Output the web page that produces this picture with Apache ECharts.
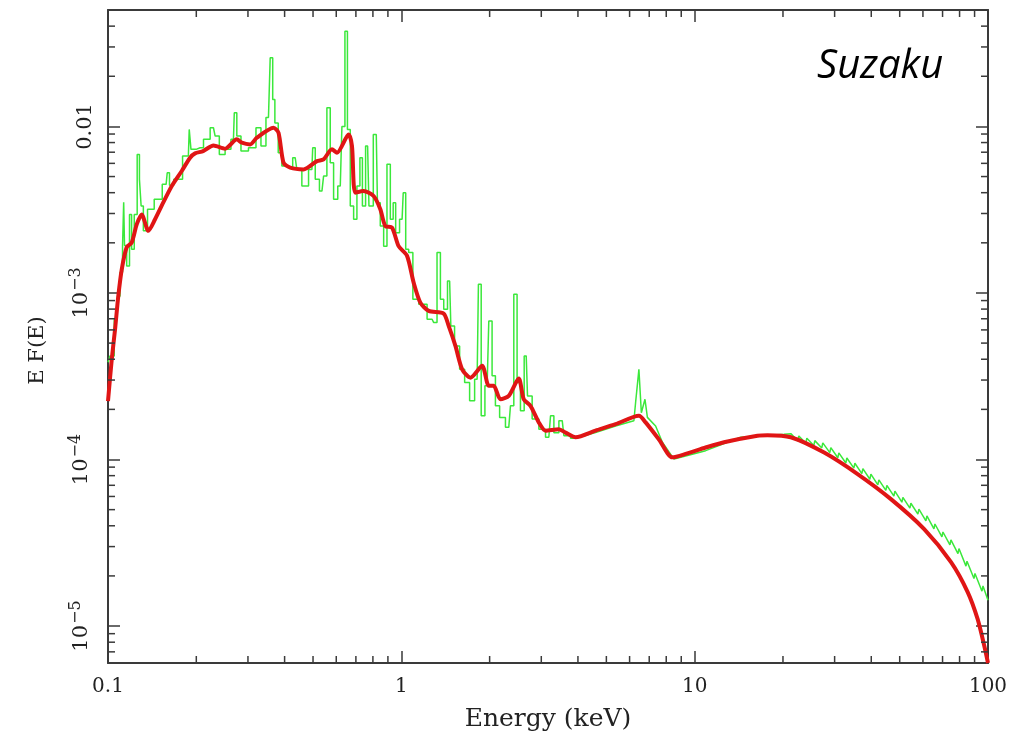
<!DOCTYPE html>
<html>
<head>
<meta charset="utf-8">
<script src="https://cdn.jsdelivr.net/npm/echarts@6/dist/echarts.min.js"></script>
<style>
html,body{margin:0;padding:0;background:#fff;}
#chart{width:1030px;height:741px;}
</style>
</head>
<body>
<div id="chart"></div>
<script>
// ---- data (energy in keV, E F(E)) ----
const modelE = [0.1,0.103,0.1057,0.1084,0.1114,0.1158,0.1205,0.1253,0.1303,0.1373,0.1447,0.1544,0.165,0.1784,0.1905,0.1981,0.211,0.2288,0.2508,0.2749,0.286,0.3052,0.3217,0.3666,0.3813,0.3966,0.418,0.4641,0.5157,0.543,0.58,0.6034,0.661,0.6788,0.6966,0.7434,0.8045,0.8479,0.8819,0.9296,0.979,1.046,1.102,1.161,1.24,1.394,1.45,1.529,1.612,1.72,1.886,1.986,2.065,2.177,2.324,2.513,2.614,2.756,2.942,3.1,3.443,3.629,3.926,4.593,5.375,6.455,6.804,7.554,8.394,9.318,10.9,12.59,16.37,17.7,21.27,27.63,35.93,46.67,60.6,74.8,85.25,92.2,97.1,100];
const modelF = [2.24e-4,4.0e-4,6.05e-4,9.55e-4,1.387e-3,1.88e-3,2.01e-3,2.58e-3,2.96e-3,2.36e-3,2.77e-3,3.5e-3,4.39e-3,5.4e-3,6.49e-3,6.89e-3,7.11e-3,7.69e-3,7.35e-3,8.36e-3,7.98e-3,7.8e-3,8.55e-3,9.82e-3,9.16e-3,6.05e-3,5.65e-3,5.52e-3,6.19e-3,6.34e-3,7.28e-3,6.95e-3,8.95e-3,7.62e-3,4.0e-3,4.09e-3,3.82e-3,3.18e-3,2.52e-3,2.47e-3,1.91e-3,1.67e-3,1.15e-3,8.75e-4,7.8e-4,7.52e-4,6.34e-4,4.81e-4,3.48e-4,3.1e-4,3.65e-4,2.77e-4,2.77e-4,2.3e-4,2.41e-4,3.06e-4,2.3e-4,2.1e-4,1.67e-4,1.49e-4,1.52e-4,1.45e-4,1.36e-4,1.49e-4,1.63e-4,1.83e-4,1.67e-4,1.32e-4,1.03e-4,1.08e-4,1.18e-4,1.27e-4,1.39e-4,1.4e-4,1.36e-4,1.1e-4,8.17e-5,5.78e-5,3.82e-5,2.42e-5,1.6e-5,1.1e-5,7.62e-6,6.0e-6];

const spectrumE = [0.1,0.103,0.1071,0.1084,0.1114,0.1128,0.1134,0.1143,0.1173,0.1195,0.1212,0.1246,0.1269,0.1291,0.1303,0.1337,0.1391,0.1485,0.1578,0.1606,0.1635,0.1716,0.1879,0.1905,0.1931,0.2061,0.2173,0.2288,0.235,0.2443,0.2574,0.2677,0.2713,0.2785,0.2896,0.3133,0.3258,0.3388,0.3524,0.3621,0.3666,0.3746,0.3864,0.3966,0.418,0.4346,0.4461,0.4702,0.4956,0.5019,0.5157,0.5362,0.5503,0.5647,0.58,0.5953,0.6192,0.6355,0.6491,0.661,0.6788,0.6966,0.7148,0.7301,0.7434,0.7674,0.7838,0.8215,0.8364,0.8591,0.8819,0.905,0.9296,0.9465,0.9667,1.006,1.024,1.046,1.073,1.117,1.177,1.273,1.306,1.341,1.377,1.413,1.461,1.489,1.549,1.612,1.676,1.743,1.813,1.85,1.894,1.961,2.013,2.065,2.121,2.206,2.324,2.387,2.449,2.513,2.582,2.665,2.72,2.867,3.022,3.183,3.269,3.355,3.536,3.629,3.926,4.593,5.375,6.205,6.29,6.455,6.58,6.77,6.9,7.36,7.76,8.5,9.318,10.9,14.35,20.17,
  21.27,22.47,22.65,23.93,24.12,25.48,25.68,27.12,27.34,28.89,29.12,30.76,31.01,32.76,33.02,34.89,35.17,37.15,37.45,39.56,39.88,42.12,42.46,44.85,45.21,47.77,48.15,50.86,51.27,54.16,54.59,57.68,58.14,61.42,61.91,65.41,65.93,69.65,70.21,74.16,74.75,78.99,79.62,84.12,84.79,89.57,90.29,95.38,96.14,100];
const spectrumF = [3.84e-4,4.19e-4,6.95e-4,9.55e-4,1.33e-3,1.91e-3,3.5e-3,1.93e-3,1.45e-3,2.96e-3,1.83e-3,2.96e-3,6.79e-3,4.81e-3,3.33e-3,2.36e-3,3.18e-3,3.65e-3,4.49e-3,5.27e-3,4.43e-3,4.81e-3,6.64e-3,9.59e-3,7.28e-3,7.45e-3,8.36e-3,9.82e-3,8.75e-3,6.79e-3,7.28e-3,8.36e-3,1.208e-2,8.75e-3,7.11e-3,7.45e-3,9.82e-3,7.62e-3,1.132e-2,2.58e-2,1.45e-2,1.05e-2,6.95e-3,5.78e-3,5.65e-3,6.49e-3,5.52e-3,4.39e-3,5.52e-3,7.45e-3,4.81e-3,4.09e-3,5.03e-3,1.294e-2,6.05e-3,3.65e-3,4.39e-3,1.0e-2,3.73e-2,9.59e-3,3.33e-3,2.77e-3,4.39e-3,6.49e-3,3.33e-3,7.62e-3,3.33e-3,8.95e-3,3.48e-3,2.52e-3,1.91e-3,5.92e-3,2.77e-3,3.48e-3,2.3e-3,2.77e-3,4.0e-3,1.83e-3,1.75e-3,9.16e-4,8.55e-4,6.95e-4,6.64e-4,1.75e-3,9.16e-4,7.98e-4,1.18e-3,6.34e-4,4.81e-4,3.48e-4,2.9e-4,2.25e-4,3.03e-4,1.127e-3,1.83e-4,2.77e-4,6.79e-4,3.18e-4,2.1e-4,1.79e-4,1.56e-4,2.1e-4,9.82e-4,2.9e-4,1.96e-4,4.19e-4,2.41e-4,1.75e-4,1.52e-4,1.36e-4,1.83e-4,1.45e-4,1.71e-4,1.39e-4,1.34e-4,1.45e-4,1.59e-4,1.71e-4,2.2e-4,3.48e-4,1.91e-4,2.3e-4,1.79e-4,1.59e-4,1.27e-4,1.005e-4,1.05e-4,1.13e-4,1.36e-4,1.42e-4,
  1.43e-4,1.294e-4,1.386e-4,1.253e-4,1.342e-4,1.212e-4,1.298e-4,1.174e-4,1.258e-4,1.1e-4,1.179e-4,1.024e-4,1.097e-4,9.53e-5,1.021e-4,8.87e-5,9.5e-5,8.23e-5,8.82e-5,7.61e-5,8.16e-5,7.04e-5,7.55e-5,6.52e-5,6.99e-5,6.02e-5,6.45e-5,5.54e-5,5.93e-5,5.1e-5,5.46e-5,4.7e-5,5.03e-5,4.28e-5,4.59e-5,3.83e-5,4.1e-5,3.43e-5,3.67e-5,3.07e-5,3.29e-5,2.72e-5,2.92e-5,2.29e-5,2.45e-5,1.93e-5,2.07e-5,1.62e-5,1.74e-5,1.43e-5];

// energy below which the spectrum is drawn as a binned histogram
const histogramEdge = 3.926;

// axis ranges and minor tick positions
const xRange = [0.1, 100];
const yRange = [6e-6, 0.05];
const xMinorTicks = [0.2,0.3,0.4,0.5,0.6,0.7,0.8,0.9,2,3,4,5,6,7,8,9,20,30,40,50,60,70,80,90];
const yMinorTicks = [7e-6,8e-6,9e-6,2e-5,3e-5,4e-5,5e-5,6e-5,7e-5,8e-5,9e-5,2e-4,3e-4,4e-4,5e-4,6e-4,7e-4,8e-4,9e-4,2e-3,3e-3,4e-3,5e-3,6e-3,7e-3,8e-3,9e-3,0.02,0.03,0.04];

const AX = '#3a3a3a';
const FONT = 'DejaVu Serif';
const GREEN = '#3be83b';

function yLabel(v){
  const e = Math.log10(v);
  const r = Math.round(e);
  if (Math.abs(e - r) > 1e-6) return '';
  if (r === -2) return '{b|0.01}';
  return '{b|10}{s|\u2212' + (-r) + '}';
}
function xLabel(v){
  const e = Math.log10(v);
  const r = Math.round(e);
  if (Math.abs(e - r) > 1e-6) return '';
  return String(+v.toPrecision(3));
}

const specPairs = spectrumE.map((e,i)=>[e, spectrumF[i]]);
const specLow = specPairs.filter(p => p[0] <= histogramEdge);
const specHigh = specPairs.filter(p => p[0] >= histogramEdge);

const chart = echarts.init(document.getElementById('chart'), null, {renderer:'canvas'});
const tickStyle = {color: AX, width: 1.5};
const commonX = {type:'log', logBase:10, min:xRange[0], max:xRange[1], splitLine:{show:false},
  axisLine:{show:true, lineStyle:{color:AX, width:2}}, axisTick:{show:true, inside:true, length:12, lineStyle:tickStyle}};
const commonY = {type:'log', logBase:10, min:yRange[0], max:yRange[1], splitLine:{show:false},
  axisLine:{show:true, lineStyle:{color:AX, width:2}}, axisTick:{show:true, inside:true, length:12, lineStyle:tickStyle}};

function minorX(params, api){
  const v = api.value(0);
  const b = api.coord([v, yRange[0]]);
  const t = api.coord([v, yRange[1]]);
  return {type:'group', children:[
    {type:'line', shape:{x1:b[0], y1:b[1], x2:b[0], y2:b[1]-7}, style:{stroke:AX, lineWidth:1.5}},
    {type:'line', shape:{x1:t[0], y1:t[1], x2:t[0], y2:t[1]+7}, style:{stroke:AX, lineWidth:1.5}}
  ]};
}
function minorY(params, api){
  const v = api.value(1);
  const l = api.coord([xRange[0], v]);
  const r = api.coord([xRange[1], v]);
  return {type:'group', children:[
    {type:'line', shape:{x1:l[0], y1:l[1], x2:l[0]+7, y2:l[1]}, style:{stroke:AX, lineWidth:1.5}},
    {type:'line', shape:{x1:r[0], y1:r[1], x2:r[0]-7, y2:r[1]}, style:{stroke:AX, lineWidth:1.5}}
  ]};
}

chart.setOption({
  animation:false,
  backgroundColor:'#fff',
  title:{text:'Suzaku', left:812, top:42, textStyle:{fontFamily:'Open Sans', fontStyle:'italic', fontWeight:'normal', fontSize:40, color:'#000'}},
  grid:{left:108, right:42, top:10, bottom:78},
  xAxis:[
    Object.assign({}, commonX, {position:'bottom', name:'Energy (keV)', nameLocation:'middle', nameGap:44,
      nameTextStyle:{fontFamily:FONT, fontSize:25, color:'#222'},
      axisLabel:{show:true, margin:14, formatter:xLabel, fontFamily:FONT, fontSize:20, color:'#222'}}),
    Object.assign({}, commonX, {position:'top', axisLabel:{show:false}})
  ],
  yAxis:[
    Object.assign({}, commonY, {position:'left', name:'E F(E)', nameLocation:'middle', nameGap:60, nameRotate:90,
      nameTextStyle:{fontFamily:FONT, fontSize:21, color:'#222', padding:[0,28,0,0]},
      axisLabel:{show:true, rotate:90, margin:12, showMinLabel:false, showMaxLabel:false, formatter:yLabel,
        rich:{b:{fontFamily:FONT, fontSize:21, color:'#222'}, s:{fontFamily:FONT, fontSize:16, color:'#222', padding:[0,0,12,1]}}}}),
    Object.assign({}, commonY, {position:'right', axisLabel:{show:false}})
  ],
  series:[
    {type:'line', name:'spectrum', xAxisIndex:0, yAxisIndex:0, data:specLow, step:'middle',
      showSymbol:false, lineStyle:{color:GREEN, width:1.5}, z:2, clip:true},
    {type:'line', name:'spectrum tail', xAxisIndex:0, yAxisIndex:0, data:specHigh,
      showSymbol:false, lineStyle:{color:GREEN, width:1.5}, z:2, clip:true},
    {type:'line', name:'model', xAxisIndex:0, yAxisIndex:0, data:modelE.map((e,i)=>[e, modelF[i]]),
      showSymbol:false, smooth:0.25, lineStyle:{color:'#e01515', width:4}, z:3, clip:true},
    {type:'custom', xAxisIndex:0, yAxisIndex:0, data:xMinorTicks.map(v=>[v, yRange[0]]), renderItem:minorX, silent:true, clip:false, z:5},
    {type:'custom', xAxisIndex:0, yAxisIndex:0, data:yMinorTicks.map(v=>[xRange[0], v]), renderItem:minorY, silent:true, clip:false, z:5}
  ]
});
</script>
</body>
</html>
